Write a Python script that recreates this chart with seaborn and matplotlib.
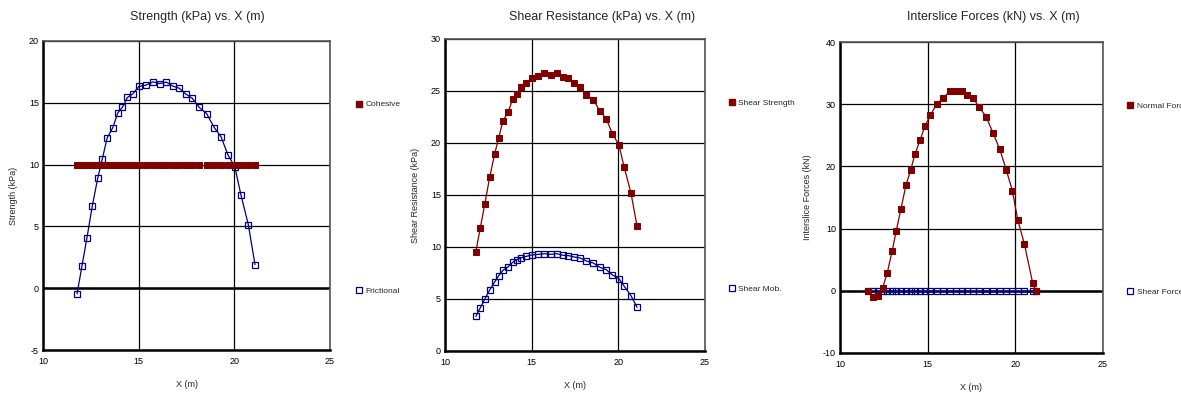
import matplotlib
matplotlib.use("Agg")
import matplotlib.pyplot as plt
from matplotlib.lines import Line2D
import seaborn as sns

# slice centres (panels 1 and 2)
x_mid = [11.78, 12.04, 12.30, 12.58, 12.86, 13.10, 13.35, 13.65, 13.91, 14.15,
         14.41, 14.69, 15.01, 15.36, 15.74, 16.10, 16.45, 16.80, 17.12, 17.45,
         17.80, 18.16, 18.55, 18.95, 19.30, 19.66, 20.03, 20.34, 20.73, 21.08]
cohesive = [10.0] * 30
frictional = [-0.46, 1.83, 4.10, 6.69, 8.90, 10.46, 12.14, 13.00, 14.19, 14.64,
              15.43, 15.72, 16.32, 16.42, 16.69, 16.56, 16.67, 16.34, 16.18, 15.72,
              15.37, 14.64, 14.13, 13.00, 12.27, 10.81, 9.79, 7.58, 5.15, 1.91]
shear_strength = [9.55, 11.86, 14.17, 16.73, 18.91, 20.51, 22.15, 23.01, 24.23, 24.71,
                  25.42, 25.77, 26.28, 26.41, 26.73, 26.57, 26.70, 26.35, 26.22, 25.74,
                  25.38, 24.65, 24.17, 23.04, 22.34, 20.87, 19.84, 17.66, 15.19, 11.99]
shear_mob = [3.33, 4.17, 5.00, 5.87, 6.63, 7.24, 7.76, 8.11, 8.53, 8.78,
             8.97, 9.10, 9.23, 9.29, 9.36, 9.29, 9.36, 9.20, 9.17, 9.04,
             8.94, 8.65, 8.46, 8.04, 7.82, 7.31, 6.96, 6.22, 5.32, 4.20]

# slice boundaries (panel 3)
x_edge = [11.58, 11.90, 12.16, 12.43, 12.70, 12.98, 13.21, 13.47, 13.76, 14.03,
          14.27, 14.56, 14.84, 15.16, 15.51, 15.89, 16.27, 16.61, 16.95, 17.27,
          17.59, 17.95, 18.33, 18.73, 19.11, 19.49, 19.83, 20.14, 20.52, 20.99, 21.16]
normal_force = [0.0, -1.07, -0.91, 0.43, 2.94, 6.47, 9.68, 13.10, 16.95, 19.41,
                21.93, 24.17, 26.47, 28.24, 30.00, 31.02, 32.09, 32.14, 32.14, 31.55,
                30.96, 29.47, 28.02, 25.35, 22.78, 19.36, 16.10, 11.39, 7.49, 1.23, 0.0]
shear_force = [0.0] * 31

RED = "#800000"
BLUE = "#000080"

sns.set_style("white")
plt.rcParams['font.family'] = ['Liberation Sans', 'DejaVu Sans']
plt.rcParams['axes.unicode_minus'] = False

W, H = 1181, 395
fig = plt.figure(figsize=(W / 100, H / 100), dpi=100)


def make_axes(left, top, right, bottom):
    return fig.add_axes([left / W, 1 - bottom / H, (right - left) / W, (bottom - top) / H])


panels = [
    dict(box=(43, 41, 330, 350), title="Strength (kPa) vs. X (m)", tx=197,
         ylabel="Strength (kPa)", ylim=(-5, 20), ystep=5,
         red=(x_mid, cohesive, "Cohesive", False), blue=(x_mid, frictional, "Frictional")),
    dict(box=(445, 39, 705, 351), title="Shear Resistance (kPa) vs. X (m)", tx=602,
         ylabel="Shear Resistance (kPa)", ylim=(0, 30), ystep=5,
         red=(x_mid, shear_strength, "Shear Strength", True), blue=(x_mid, shear_mob, "Shear Mob.")),
    dict(box=(840, 42, 1103, 353), title="Interslice Forces (kN) vs. X (m)", tx=993,
         ylabel="Interslice Forces (kN)", ylim=(-10, 40), ystep=10,
         red=(x_edge, normal_force, "Normal Force", True), blue=(x_edge, shear_force, "Shear Force")),
]

MS = 4.0

for p in panels:
    ax = make_axes(*p["box"])
    lo, hi = p["ylim"]
    ax.set_xlim(10, 25)
    ax.set_ylim(lo, hi)
    ax.set_xticks([10, 15, 20, 25])
    ax.set_yticks(list(range(lo, hi + 1, p["ystep"])))
    ax.grid(True, color="black", lw=0.9)
    ax.set_axisbelow(True)
    if lo < 0:
        ax.axhline(0, color="black", lw=1.8, zorder=1)

    bx, by, blabel = p["blue"]
    sns.lineplot(x=bx, y=by, ax=ax, color=BLUE, lw=0.9, marker="s", markersize=MS,
                 markerfacecolor="none", markeredgecolor=BLUE, markeredgewidth=0.9,
                 sort=False, zorder=3)
    rx, ry, rlabel, rline = p["red"]
    sns.lineplot(x=rx, y=ry, ax=ax, color=RED, lw=0.9 if rline else 0, marker="s",
                 markersize=MS, markerfacecolor=RED, markeredgecolor=RED,
                 sort=False, zorder=4)

    for s in ["left", "bottom"]:
        ax.spines[s].set_color("black")
        ax.spines[s].set_linewidth(1.8)
    for s in ["right", "top"]:
        ax.spines[s].set_color("#555555")
        ax.spines[s].set_linewidth(1.2)
    ax.tick_params(axis="y", direction="in", length=6, width=1.5, labelsize=6.5,
                   pad=3, colors="black")
    ax.tick_params(axis="x", length=0, labelsize=6.5, pad=5, colors="black")
    ax.set_xlabel("X (m)", fontsize=6.5, labelpad=10)
    ax.set_ylabel(p["ylabel"], fontsize=6.5, labelpad=8)
    fig.text(p["tx"] / W, 1 - 17 / H, p["title"], fontsize=9, ha="center", va="center")

    handles = [
        Line2D([], [], ls="none", marker="s", markersize=MS, color=RED),
        Line2D([], [], ls="none", marker="s", markersize=MS, markerfacecolor="none",
               markeredgecolor=BLUE, markeredgewidth=0.9),
    ]
    ax.legend(handles, [rlabel, blabel], loc="upper left", bbox_to_anchor=(1.09, 0.807),
              frameon=False, fontsize=6, handlelength=0.8, handletextpad=0.4,
              labelspacing=21.4, borderpad=0, borderaxespad=0)

fig.savefig("out.png", dpi=100)
